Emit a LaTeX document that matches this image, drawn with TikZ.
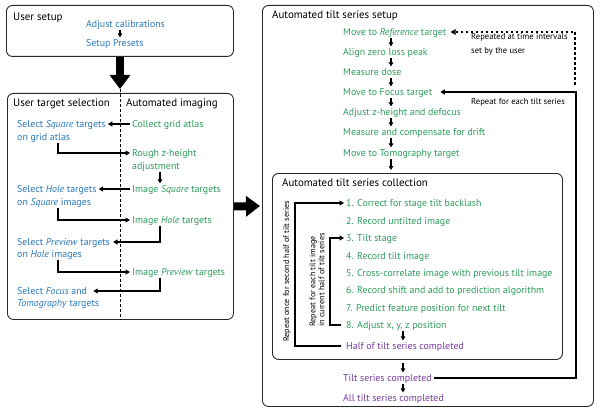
\documentclass[tikz,border=0pt]{standalone}
\usepackage{fontspec}
\setmainfont{PT Sans}
\usetikzlibrary{arrows.meta}
\definecolor{cblue}{RGB}{40,120,185}
\definecolor{cgreen}{RGB}{45,155,90}
\definecolor{cpurple}{RGB}{120,60,160}
\definecolor{cbox}{RGB}{40,40,40}
\begin{document}
\begin{tikzpicture}[x=1pt,y=-1pt,
 txt/.style={anchor=west, inner xsep=2pt, inner ysep=1pt, text height=1.5ex, text depth=.25ex, font=\fontsize{9.9}{12}\selectfont},
 ub/.style={txt, text=cblue},
 ag/.style={txt, text=cgreen},
 pu/.style={txt, text=cpurple},
 hdr/.style={txt, font=\fontsize{10.9}{13}\selectfont},
 note/.style={anchor=west, inner sep=1pt, font=\fontsize{8.6}{14}\selectfont, align=left},
 rnote/.style={anchor=west, inner sep=1pt, font=\fontsize{8.2}{9}\selectfont, align=left, rotate=90},
 box/.style={draw=cbox, line width=0.9pt, rounded corners=6pt, anchor=north west, inner sep=0pt},
 arr/.style={line width=1.4pt, -{Triangle[length=4.5pt,width=5pt]}},
 sarr/.style={line width=1.2pt, -{Triangle[length=4pt,width=4.5pt]}},
 big/.style={line width=8pt, -{Triangle[length=14pt,width=20pt]}},
 divline/.style={line width=0.9pt, dash pattern=on 3pt off 2pt},
 dotl/.style={line width=2pt, dash pattern=on 2.5pt off 2.5pt, -{Triangle[length=5pt,width=5.5pt]}},
]
\useasboundingbox (0,0) rectangle (600,412);
% ---------- User setup ----------
\node[box, minimum width=227pt, minimum height=51pt] (setup) at (6,5) {};
\node[hdr] (ushdr) at (11,17) {User setup};
\node[ub] (adj) at (84,24) {Adjust calibrations};
\node[ub] (presets) at (84,43) {Setup Presets};
\coordinate (xs) at (120,0);
\draw[sarr] (adj.south -| xs) -- (presets.north -| xs);
\coordinate (tip1) at (120,89);
\draw[big] (setup.south -| tip1) -- (tip1);
% ---------- Left box ----------
\node[box, minimum width=226pt, minimum height=226pt] (lbox) at (7,93) {};
\draw[divline] (tip1) -- (lbox.south -| tip1);
\node[hdr] (uts) at (11,103) {User target selection};
\node[hdr] (aim) at (124,103) {Automated imaging};
\node[ub] (selsqa) at (15,124) {Select \emph{Square} targets};
\node[ub] (selsqb) at (15,137) {on grid atlas};
\node[ub] (selhola) at (15,189) {Select \emph{Hole} targets};
\node[ub] (selholb) at (15,202) {on \emph{Square} images};
\node[ub] (selpra) at (15,242) {Select \emph{Preview} targets};
\node[ub] (selprb) at (15,254) {on \emph{Hole} images};
\node[ub] (selfoa) at (15,291) {Select \emph{Focus} and};
\node[ub] (selfob) at (15,303) {\emph{Tomography} targets};
\node[ag] (collect) at (130,124) {Collect grid atlas};
\node[ag] (rougha) at (130,153) {Rough z-height};
\node[ag] (roughb) at (130,166) {adjustment};
\node[ag] (imgsq) at (130,189) {Image \emph{Square} targets};
\node[ag] (imghole) at (130,220) {Image \emph{Hole} targets};
\node[ag] (imgprev) at (130,272) {Image \emph{Preview} targets};
\coordinate (xl) at (58,0);
\coordinate (xr) at (160,0);
\draw[arr] (collect.west) -- (selsqa.east);
\draw[arr] (selsqb.south -| xl) |- (rougha.west);
\draw[sarr] (roughb.south -| xr) -- (imgsq.north -| xr);
\draw[arr] (imgsq.west) -- (selhola.east);
\draw[arr] (selholb.south -| xl) |- (imghole.west);
\draw[arr] (imghole.south -| xr) |- ([xshift=1pt]selpra.east);
\draw[arr] (selprb.south -| xl) |- (imgprev.west);
\draw[arr] (imgprev.south -| xr) |- ([xshift=4pt]selfoa.east);
% ---------- Right box ----------
\node[box, minimum width=331pt, minimum height=401pt] (rbox) at (262,5) {};
\coordinate (a2e) at (260,206);
\draw[big] (lbox.east) -- (a2e);
\node[hdr] (atss) at (270,15) {Automated tilt series setup};
\node[ag] (ref) at (341,32) {Move to \emph{Reference} target};
\node[ag] (align) at (341,52) {Align zero loss peak};
\node[ag] (dose) at (341,72) {Measure dose};
\node[ag] (focus) at (341,92) {Move to Focus target};
\node[ag] (zh) at (341,112) {Adjust z-height and defocus};
\node[ag] (drift) at (341,132) {Measure and compensate for drift};
\node[ag] (tomo) at (341,153) {Move to Tomography target};
\coordinate (xa) at (391,0);
\draw[sarr] (ref.south -| xa) -- (align.north -| xa);
\draw[sarr] (align.south -| xa) -- (dose.north -| xa);
\draw[sarr] (dose.south -| xa) -- (focus.north -| xa);
\draw[sarr] (focus.south -| xa) -- (zh.north -| xa);
\draw[sarr] (zh.south -| xa) -- (drift.north -| xa);
\draw[sarr] (drift.south -| xa) -- (tomo.north -| xa);
\node[box, minimum width=290pt, minimum height=186pt] (ibox) at (272,173) {};
\draw[sarr, shorten >=3pt] (tomo.south -| xa) -- (ibox.north -| xa);
\node[note] (rep1) at (470,44) {Repeated at time intervals\\set by the user};
\node[note] (rep2) at (470,102) {Repeat for each tilt series};
\coordinate (dc) at (575,85);
\draw[dotl] (dc) |- ([xshift=2pt]ref.east);
% ---------- Inner box ----------
\node[hdr] (atsc) at (280,183) {Automated tilt series collection};
\node[ag] (s1) at (344,203) {1. Correct for stage tilt backlash};
\node[ag] (s2) at (344,221) {2. Record untilted image};
\node[ag] (s3) at (344,238) {3. Tilt stage};
\node[ag] (s4) at (344,256) {4. Record tilt image};
\node[ag] (s5) at (344,273) {5. Cross-correlate image with previous tilt image};
\node[ag] (s6) at (344,290) {6. Record shift and add to prediction algorithm};
\node[ag] (s7) at (344,308) {7. Predict feature position for next tilt};
\node[ag] (s8) at (344,325) {8. Adjust x, y, z position};
\node[pu] (half) at (344,346) {Half of tilt series completed};
\coordinate (xb) at (403,0);
\draw[sarr] (s8.south -| xb) -- (half.north -| xb);
\coordinate (lo) at (295,203);
\coordinate (li) at (330,238);
\draw[arr] ([xshift=-3pt]half.west) -| (lo) -- (s1.west);
\draw[arr] ([xshift=-3pt]s8.west) -| (li) -- (s3.west);
\node[rnote] (rlo) at (287,343) {Repeat once for second half of tilt series};
\node[rnote] (rli) at (317,328) {Repeat for each tilt image\\in current half of tilt series};
% ---------- Completion ----------
\node[pu] (tiltc) at (341,378) {Tilt series completed};
\node[pu] (allc) at (341,398) {All tilt series completed};
\draw[sarr, shorten <=3pt] (ibox.south -| xb) -- (tiltc.north -| xb);
\draw[sarr] (tiltc.south -| xb) -- (allc.north -| xb);
\coordinate (rc) at (576,92);
\draw[arr] (tiltc.east) -| (rc) -- ([xshift=6pt]focus.east);
\end{tikzpicture}
\end{document}
